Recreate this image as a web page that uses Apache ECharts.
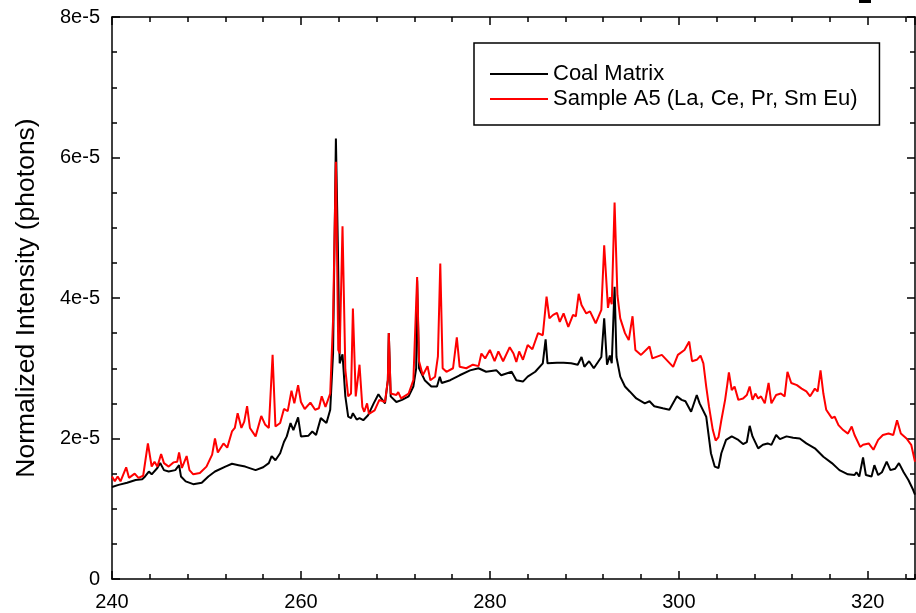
<!DOCTYPE html>
<html>
<head>
<meta charset="utf-8">
<script src="https://cdn.jsdelivr.net/npm/echarts@6/dist/echarts.min.js"></script>
<style>html,body{margin:0;padding:0;background:#fff}#c{width:916px;height:613px}</style>
</head>
<body>
<div id="c"></div>
<script>
// Wavelength (nm) and normalized intensity (in units of 1e-5 photons)
const coalX = [240.0,240.7,241.6,242.5,243.2,243.5,243.9,244.2,244.8,245.1,245.5,246.0,246.7,247.1,247.3,247.8,248.6,249.5,250.2,250.9,252.0,252.7,253.4,254.1,255.2,256.0,256.6,256.9,257.3,257.8,258.2,258.5,258.9,259.2,259.7,260.0,260.8,261.2,261.6,262.1,262.7,263.1,263.4,263.7,263.9,264.1,264.4,264.7,265.0,265.3,265.5,265.9,266.2,266.6,267.1,267.7,268.2,268.5,268.9,269.2,269.3,269.5,270.1,270.7,271.4,271.9,272.2,272.3,272.5,273.1,273.8,274.4,274.7,274.9,275.8,276.8,277.9,278.8,279.6,280.7,281.2,282.3,282.8,283.5,284.0,284.8,285.6,285.9,286.1,287.1,287.8,288.6,289.3,289.7,290.0,290.5,291.0,291.5,291.8,292.1,292.4,292.7,292.9,293.2,293.4,293.8,294.3,294.8,295.5,296.4,296.9,297.4,298.3,299.0,299.8,300.3,300.7,301.3,301.9,302.2,302.9,303.4,303.8,304.2,304.5,305.0,305.6,306.3,306.8,307.2,307.5,307.8,308.4,308.9,309.4,309.8,310.3,310.7,311.4,312.1,312.8,313.5,314.4,315.3,316.2,317.0,317.9,318.6,318.8,319.1,319.5,319.8,320.4,320.7,321.1,321.5,322.0,322.4,322.9,323.3,323.8,324.3,324.8,325.0];
const coalY = [1.31,1.34,1.37,1.41,1.42,1.46,1.53,1.49,1.58,1.65,1.55,1.53,1.55,1.62,1.46,1.39,1.35,1.37,1.46,1.53,1.60,1.64,1.62,1.60,1.55,1.59,1.65,1.75,1.69,1.79,1.95,2.03,2.22,2.12,2.30,2.03,2.04,2.10,2.05,2.29,2.22,2.41,3.21,6.27,4.80,3.07,3.20,2.60,2.31,2.29,2.36,2.27,2.29,2.26,2.33,2.50,2.63,2.57,2.50,2.83,3.50,2.60,2.52,2.55,2.60,2.74,3.00,4.25,3.00,2.83,2.74,2.74,2.88,2.79,2.83,2.90,2.97,3.00,2.95,2.97,2.90,2.95,2.83,2.81,2.88,2.95,3.07,3.41,3.07,3.08,3.08,3.07,3.05,3.16,3.02,3.10,3.00,3.10,3.16,3.71,3.05,3.18,3.07,4.16,3.16,2.88,2.74,2.67,2.57,2.50,2.53,2.46,2.43,2.41,2.60,2.55,2.53,2.38,2.62,2.50,2.31,1.79,1.60,1.58,1.79,1.98,2.03,1.98,1.92,1.95,2.18,2.03,1.86,1.91,1.93,1.91,2.05,1.99,2.03,2.01,2.00,1.93,1.86,1.74,1.65,1.55,1.49,1.48,1.52,1.46,1.73,1.48,1.46,1.62,1.48,1.52,1.67,1.55,1.57,1.65,1.52,1.41,1.27,1.20];

const sampleX = [240.0,240.3,240.6,240.9,241.5,241.8,242.4,242.8,243.3,243.8,244.2,244.5,244.8,245.2,245.5,246.0,246.5,246.9,247.1,247.4,247.9,248.2,248.6,249.3,250.0,250.6,250.9,251.2,251.8,252.2,252.7,253.0,253.3,253.7,254.0,254.3,254.6,255.2,255.8,256.2,256.6,257.0,257.3,257.8,258.2,258.6,259.0,259.3,259.7,260.0,260.4,261.0,261.5,261.9,262.2,262.6,263.1,263.4,263.7,263.95,264.1,264.4,264.7,265.0,265.3,265.5,265.8,266.2,266.5,266.7,267.0,267.2,267.8,268.3,268.9,269.2,269.3,269.5,270.1,270.3,270.6,271.4,271.9,272.3,272.5,272.9,273.4,273.7,274.2,274.5,274.75,275.0,275.4,276.1,276.5,276.8,277.5,278.2,278.8,279.1,279.5,280.0,280.5,280.9,281.4,282.1,282.5,282.8,283.1,283.5,284.0,284.5,285.1,285.6,286.0,286.3,286.7,287.1,287.4,287.8,288.3,288.8,289.1,289.4,289.7,290.2,290.6,291.2,291.8,292.1,292.5,292.7,292.9,293.2,293.5,293.8,294.3,294.7,295.1,295.4,296.0,296.9,297.2,298.2,298.7,299.4,299.9,300.6,301.1,301.4,301.9,302.3,302.6,302.9,303.2,303.6,303.9,304.2,304.5,304.9,305.1,305.3,305.6,305.9,306.3,306.8,307.2,307.5,307.8,308.1,308.4,308.7,309.1,309.5,309.8,310.3,310.8,311.2,311.5,311.9,312.5,313.0,313.5,313.9,314.4,314.7,315.0,315.3,315.6,316.2,316.5,316.9,317.4,317.9,318.3,318.6,319.2,319.5,320.1,320.6,321.1,321.6,322.2,322.7,323.1,323.5,324.1,324.6,325.0];
const sampleY = [1.46,1.39,1.46,1.39,1.59,1.44,1.50,1.44,1.47,1.93,1.60,1.67,1.60,1.78,1.65,1.60,1.66,1.67,1.80,1.58,1.75,1.55,1.49,1.51,1.60,1.77,2.00,1.80,1.93,1.87,2.10,2.15,2.36,2.15,2.24,2.46,2.15,2.03,2.32,2.20,2.15,3.19,2.17,2.22,2.42,2.39,2.68,2.50,2.76,2.52,2.42,2.51,2.41,2.43,2.60,2.45,2.64,3.69,5.94,3.26,3.21,5.02,2.98,2.60,2.64,3.85,2.60,3.05,2.45,2.38,2.50,2.35,2.40,2.55,2.52,2.83,3.50,2.64,2.62,2.66,2.57,2.64,2.83,4.30,3.10,2.90,3.03,2.83,2.88,3.17,4.49,3.00,2.95,3.00,3.44,3.02,3.00,3.05,3.03,3.21,3.14,3.26,3.10,3.24,3.10,3.30,3.21,3.09,3.24,3.12,3.33,3.27,3.50,3.47,4.02,3.71,3.76,3.79,3.66,3.78,3.59,3.76,3.74,4.06,3.90,3.78,3.81,3.64,3.83,4.75,3.86,4.01,3.91,5.36,4.04,3.71,3.50,3.40,3.74,3.26,3.19,3.31,3.14,3.19,3.12,3.02,3.19,3.26,3.38,3.10,3.12,3.18,3.07,2.74,2.45,2.12,1.97,2.02,2.26,2.55,2.74,2.94,2.69,2.74,2.55,2.57,2.62,2.74,2.55,2.64,2.57,2.60,2.50,2.79,2.50,2.62,2.64,2.60,2.95,2.79,2.76,2.71,2.67,2.60,2.71,2.67,2.97,2.64,2.41,2.29,2.31,2.19,2.12,2.07,2.17,2.05,1.88,1.91,1.93,1.84,1.98,2.05,2.07,2.05,2.26,2.07,2.00,1.91,1.67];

const seriesNames = ['Coal Matrix', 'Sample A5 (La, Ce, Pr, Sm Eu)'];
const yTickLabels = ['0', '2e-5', '4e-5', '6e-5', '8e-5'];
const xTickValues = [240, 260, 280, 300, 320];

const pairs = (xs, ys) => xs.map((x, i) => [x, ys[i]]);
const FONT = 'Liberation Sans, Arial, sans-serif';
const axisLineStyle = { color: '#000', width: 1.5 };

const chart = echarts.init(document.getElementById('c'), null, { renderer: 'canvas' });

function xAxisDef(pos, interval, tickLen, showLabel, showLine) {
  return {
    type: 'value', position: pos, min: 240, max: 325, interval: interval,
    axisLine: { show: showLine, onZero: false, lineStyle: axisLineStyle },
    axisTick: { show: true, inside: true, length: tickLen, lineStyle: axisLineStyle },
    axisLabel: {
      show: showLabel, showMaxLabel: false, margin: 13, color: '#000',
      fontSize: 20, fontFamily: FONT,
      formatter: v => (xTickValues.indexOf(v) >= 0 ? String(v) : '')
    },
    splitLine: { show: false }
  };
}
function yAxisDef(pos, showLabel, name) {
  return {
    type: 'value', position: pos, min: 0, max: 8, interval: 2,
    name: name, nameLocation: 'middle', nameGap: 72,
    nameTextStyle: { fontSize: 26.5, color: '#000', fontFamily: FONT },
    axisLine: { show: true, onZero: false, lineStyle: axisLineStyle },
    axisTick: { show: true, inside: true, length: 8, lineStyle: axisLineStyle },
    minorTick: { show: true, splitNumber: 4, length: 5, lineStyle: axisLineStyle },
    axisLabel: {
      show: showLabel, margin: 12, color: '#000', fontSize: 20, fontFamily: FONT,
      formatter: v => yTickLabels[Math.round(v / 2)]
    },
    splitLine: { show: false }
  };
}

chart.setOption({
  animation: false,
  backgroundColor: '#fff',
  grid: { left: 112, right: 1, top: 17, bottom: 34, containLabel: false },
  xAxis: [
    xAxisDef('bottom', 20, 8, true, true),
    xAxisDef('bottom', 4, 5, false, false),
    xAxisDef('top', 20, 8, false, true),
    xAxisDef('top', 4, 5, false, false)
  ],
  yAxis: [
    yAxisDef('left', true, 'Normalized Intensity (photons)'),
    yAxisDef('right', false, '')
  ],
  legend: {
    data: seriesNames, orient: 'vertical', left: 474, top: 43,
    padding: [20, 22, 15, 16], itemGap: 3, itemWidth: 58, itemHeight: 2,
    icon: 'rect',
    borderColor: '#000', borderWidth: 1.5, backgroundColor: '#fff',
    textStyle: { fontSize: 22, lineHeight: 22, color: '#000', fontFamily: FONT }
  },
  graphic: [
    { type: 'rect', shape: { x: 859, y: 0, width: 12, height: 3 }, style: { fill: '#000' } }
  ],
  series: [
    {
      name: seriesNames[0], type: 'line', xAxisIndex: 0, yAxisIndex: 0,
      data: pairs(coalX, coalY), symbol: 'none', smooth: false,
      lineStyle: { color: '#000', width: 2 }, itemStyle: { color: '#000' }, z: 2
    },
    {
      name: seriesNames[1], type: 'line', xAxisIndex: 0, yAxisIndex: 0,
      data: pairs(sampleX, sampleY), symbol: 'none', smooth: false,
      lineStyle: { color: '#ff0000', width: 2 }, itemStyle: { color: '#ff0000' }, z: 3
    }
  ]
});
</script>
</body>
</html>
